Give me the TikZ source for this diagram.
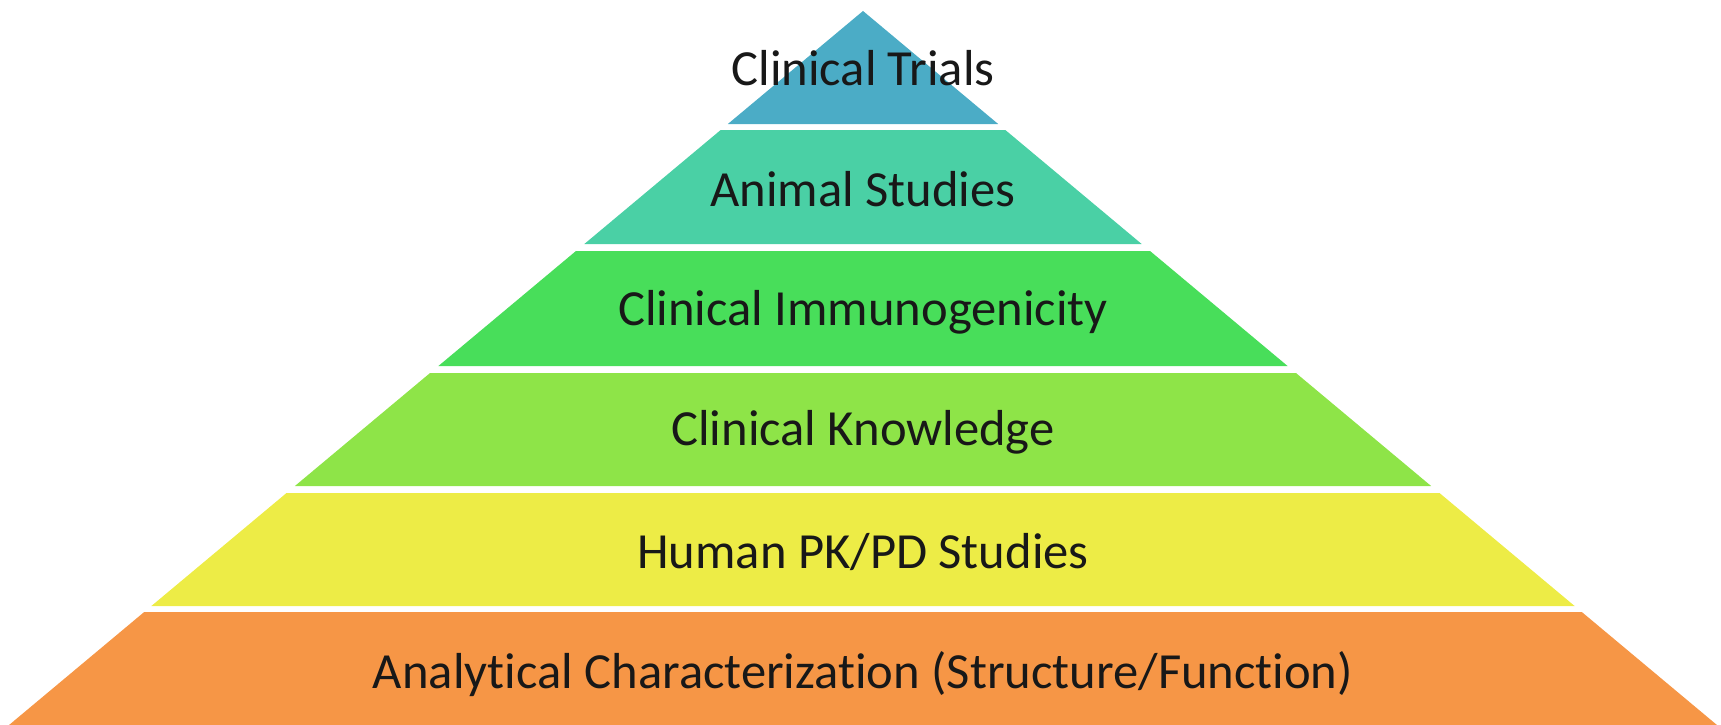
\documentclass[tikz,border=0pt]{standalone}
\usepackage{fontspec}
\setmainfont{Carlito}[Ligatures=NoCommon]
\definecolor{tierA}{RGB}{75,172,198}
\definecolor{tierB}{RGB}{74,208,165}
\definecolor{tierC}{RGB}{72,222,90}
\definecolor{tierD}{RGB}{142,228,72}
\definecolor{tierE}{RGB}{237,236,70}
\definecolor{tierF}{RGB}{246,150,70}
\definecolor{ink}{RGB}{24,24,24}
\begin{document}
\begin{tikzpicture}[x=1pt,y=-1pt,
  lbl/.style={font=\fontsize{50.6}{60}\selectfont, text=ink, anchor=center, inner sep=0pt}]
\useasboundingbox (0,0) rectangle (1721,725);
% apex of the pyramid and slope of its sides (dx per unit of height)
\def\ax{863}\def\ay{11}\def\sl{1.196}
\foreach \yt/\yb/\c in {11/124/tierA, 130/244/tierB, 251/366/tierC,
                        373/486/tierD, 493/606/tierE, 612/725/tierF} {
  \pgfmathsetmacro\lt{\ax-\sl*(\yt-\ay)}
  \pgfmathsetmacro\rt{\ax+\sl*(\yt-\ay)}
  \pgfmathsetmacro\lb{\ax-\sl*(\yb-\ay)}
  \pgfmathsetmacro\rb{\ax+\sl*(\yb-\ay)}
  \fill[\c] (\lt,\yt) -- (\rt,\yt) -- (\rb,\yb) -- (\lb,\yb) -- cycle;
}
% tier labels
\node[lbl] (trials)  at (863,68)  {Clinical Trials};
\node[lbl] (animal)  at (863,189) {Animal Studies};
\node[lbl] (immuno)  at (863,312) {Clinical Immunogenicity};
\node[lbl] (knowl)   at (863,432) {Clinical Knowledge};
\node[lbl] (pkpd)    at (863,552) {Human PK/PD Studies};
\node[lbl] (analyt)  at (863,674) {Analytical Characterization (Structure/Function)};
\end{tikzpicture}
\end{document}
